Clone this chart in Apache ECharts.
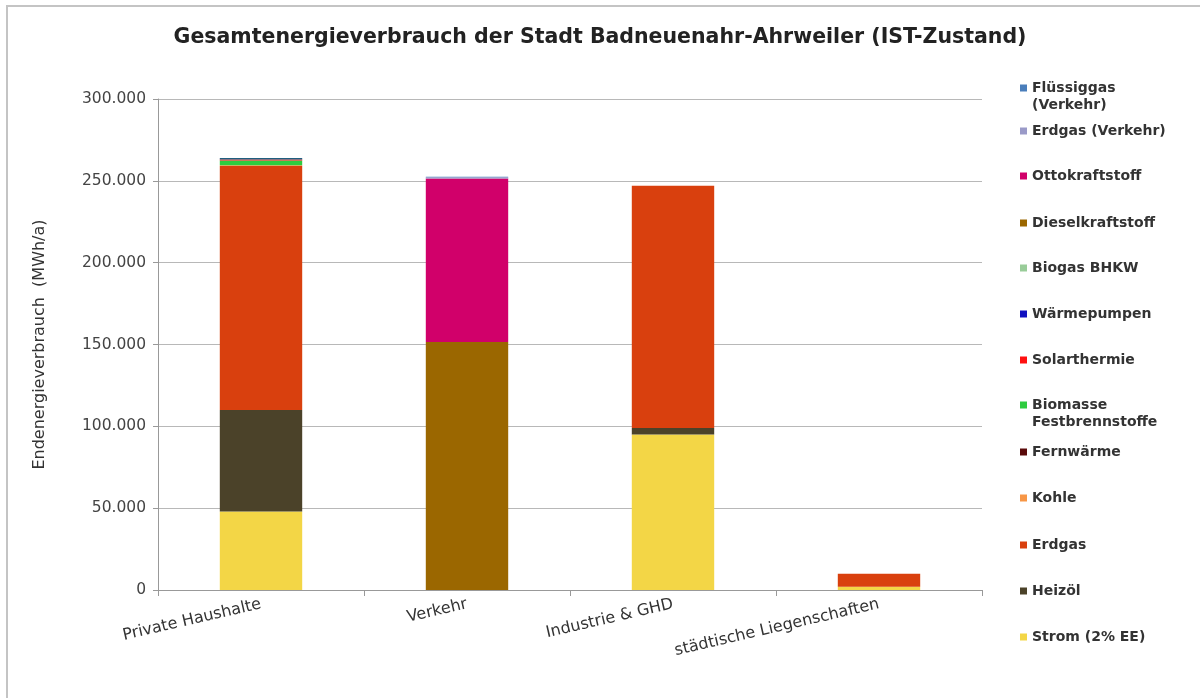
<!DOCTYPE html>
<html>
<head>
<meta charset="utf-8">
<script src="https://cdn.jsdelivr.net/npm/echarts@6/dist/echarts.min.js"></script>
<style>
  html, body { margin: 0; padding: 0; background: #fff; }
  #main { width: 1200px; height: 698px; }
</style>
</head>
<body>
<div id="main"></div>
<script>
// Kategorien und Werte (MWh/a)
var categories = ['Private Haushalte', 'Verkehr', 'Industrie & GHD', 'städtische Liegenschaften'];

var strom        = [48000, 0, 95000, 2000];
var heizoel      = [62000, 0, 4000, 0];
var erdgas       = [149000, 0, 148000, 8000];
var kohle        = [500, 0, 0, 0];
var fernwaerme   = [0, 0, 0, 0];
var biomasse     = [3000, 0, 0, 0];
var solarthermie = [500, 0, 0, 0];
var waermepumpen = [1000, 0, 0, 0];
var biogas       = [0, 0, 0, 0];
var diesel       = [0, 151500, 0, 0];
var otto         = [0, 100000, 0, 0];
var erdgasVerk   = [0, 700, 0, 0];
var fluessiggas  = [0, 300, 0, 0];

// Reihenfolge im Stapel von unten nach oben
var seriesDefs = [
    {name: 'Strom (2% EE)', data: strom, color: '#f3d646'},
    {name: 'Heizöl', data: heizoel, color: '#4b4229'},
    {name: 'Erdgas', data: erdgas, color: '#d9400e'},
    {name: 'Kohle', data: kohle, color: '#f79646'},
    {name: 'Fernwärme', data: fernwaerme, color: '#5a0a0a'},
    {name: 'Biomasse Festbrennstoffe', data: biomasse, color: '#2ecc40'},
    {name: 'Solarthermie', data: solarthermie, color: '#ff1010'},
    {name: 'Wärmepumpen', data: waermepumpen, color: '#1f5f80'},
    {name: 'Biogas BHKW', data: biogas, color: '#99cc99'},
    {name: 'Dieselkraftstoff', data: diesel, color: '#9b6700'},
    {name: 'Ottokraftstoff', data: otto, color: '#d1006a'},
    {name: 'Erdgas (Verkehr)', data: erdgasVerk, color: '#9a9ac8'},
    {name: 'Flüssiggas (Verkehr)', data: fluessiggas, color: '#4a7ebb'}
];

// Legendenpositionen (Mitte der ersten Zeile), von oben nach unten
var legendY = [88, 131, 176, 223, 268, 314, 360, 405, 452, 498, 545, 591, 637];
var legendColors = {'Wärmepumpen': '#1010c0'};

var FONT = 'DejaVu Sans, Verdana, sans-serif';

var myChart = echarts.init(document.getElementById('main'));

var legendOrder = seriesDefs.slice().reverse();
var legends = legendOrder.map(function (s, i) {
    return {
        data: [{name: s.name, itemStyle: legendColors[s.name] ? {color: legendColors[s.name]} : undefined}],
        orient: 'vertical',
        left: 1015,
        top: legendY[i] - 12,
        itemWidth: 7,
        itemHeight: 7,
        selectedMode: false,
        icon: 'rect',
        formatter: function (n) {
            if (n === 'Flüssiggas (Verkehr)') return 'Flüssiggas';
            if (n === 'Biomasse Festbrennstoffe') return 'Biomasse';
            return n;
        },
        textStyle: {
            fontFamily: FONT,
            fontSize: 14,
            fontWeight: 'bold',
            color: '#333'
        }
    };
});

var option = {
    backgroundColor: '#fff',
    animation: false,
    title: {
        text: 'Gesamtenergieverbrauch der Stadt Badneuenahr-Ahrweiler (IST-Zustand)',
        left: 'center',
        top: 22,
        textStyle: {
            fontFamily: FONT,
            fontSize: 20.5,
            fontWeight: 'bold',
            color: '#222'
        }
    },
    legend: legends,
    graphic: [
        {
            type: 'rect',
            shape: {x: 7, y: 6, width: 1200, height: 700},
            style: {fill: 'none', stroke: '#c4c4c4', lineWidth: 2}
        },
        {
            type: 'text', left: 1032, top: 98,
            style: {text: '(Verkehr)', font: 'bold 14px DejaVu Sans, Verdana, sans-serif', fill: '#333'}
        },
        {
            type: 'text', left: 1032, top: 415,
            style: {text: 'Festbrennstoffe', font: 'bold 14px DejaVu Sans, Verdana, sans-serif', fill: '#333'}
        }
    ],
    grid: {
        left: 158,
        right: 218,
        top: 99,
        bottom: 108
    },
    xAxis: {
        type: 'category',
        data: categories,
        axisLine: {lineStyle: {color: '#999'}},
        axisTick: {show: true, length: 6, lineStyle: {color: '#999'}},
        axisLabel: {
            rotate: 13,
            margin: 14,
            fontFamily: FONT,
            fontSize: 16,
            color: '#333'
        }
    },
    yAxis: {
        type: 'value',
        min: 0,
        max: 300000,
        interval: 50000,
        name: 'Endenergieverbrauch  (MWh/a)',
        nameLocation: 'middle',
        nameGap: 110,
        nameTextStyle: {
            fontFamily: FONT,
            fontSize: 16,
            color: '#333'
        },
        axisLine: {show: true, lineStyle: {color: '#999'}},
        axisTick: {show: true, length: 5, lineStyle: {color: '#999'}},
        splitLine: {lineStyle: {color: '#b8b8b8'}},
        axisLabel: {
            margin: 12,
            fontFamily: FONT,
            fontSize: 15.5,
            color: '#444',
            formatter: function (v) {
                return String(v).replace(/\B(?=(\d{3})+(?!\d))/g, '.');
            }
        }
    },
    series: seriesDefs.map(function (s) {
        return {
            name: s.name,
            type: 'bar',
            stack: 'total',
            barWidth: '40%',
            data: s.data,
            itemStyle: {color: s.color}
        };
    })
};

myChart.setOption(option);
</script>
</body>
</html>
